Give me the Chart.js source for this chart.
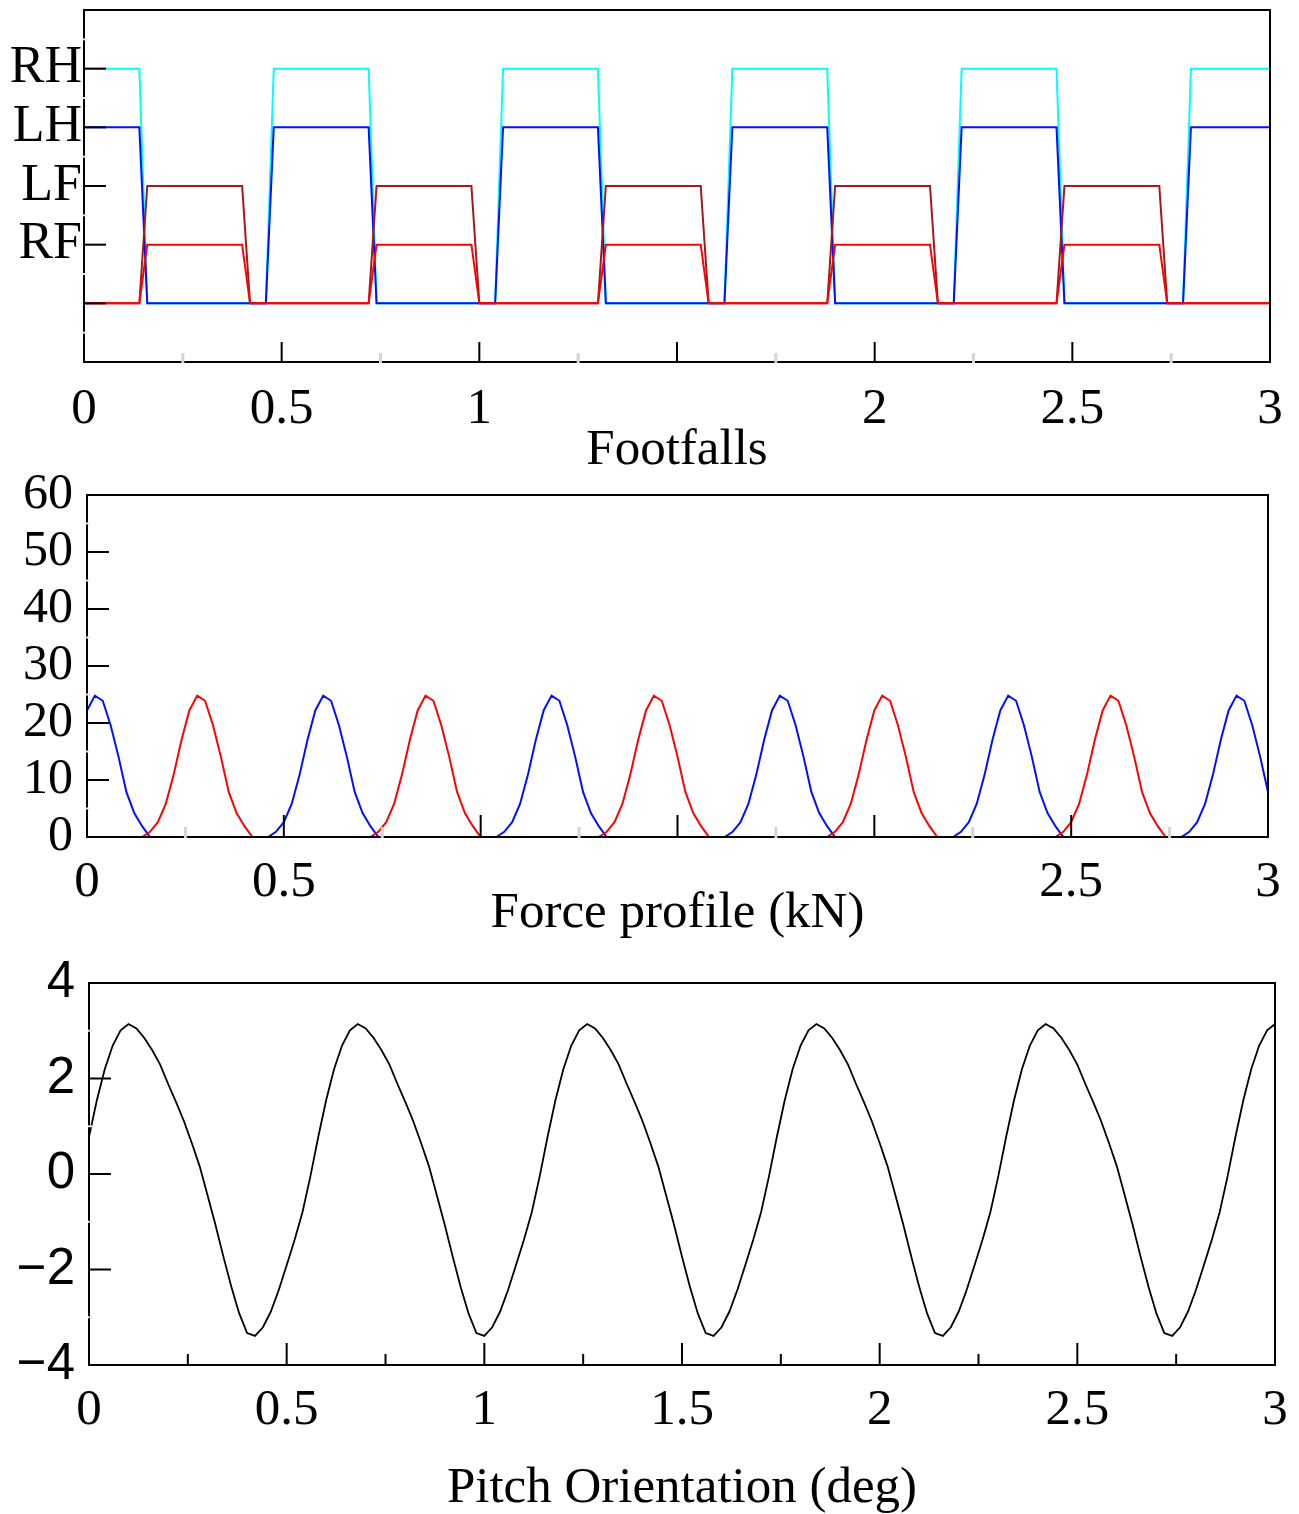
<!DOCTYPE html>
<html><head><meta charset="utf-8">
<script src="https://cdn.jsdelivr.net/npm/chart.js@4.4.0/dist/chart.umd.min.js"></script>
<style>
html,body{margin:0;padding:0;background:#fff;overflow:hidden;width:1299px;height:1514px;position:relative;}
canvas{position:absolute;left:0;}
</style></head><body>
<canvas id="c1" width="1299" height="485" style="top:0px;width:1299px;height:485px"></canvas>
<canvas id="c2" width="1299" height="490" style="top:460px;width:1299px;height:490px"></canvas>
<canvas id="c3" width="1299" height="580" style="top:940px;width:1299px;height:580px"></canvas>
<script>
// ---- sampling grid (s) ----
const time = [
0,0.02,0.04,0.06,0.08,0.10,0.12,0.14,0.16,0.18,
0.20,0.22,0.24,0.26,0.28,0.30,0.32,0.34,0.36,0.38,
0.40,0.42,0.44,0.46,0.48,0.50,0.52,0.54,0.56,0.58,
0.60,0.62,0.64,0.66,0.68,0.70,0.72,0.74,0.76,0.78,
0.80,0.82,0.84,0.86,0.88,0.90,0.92,0.94,0.96,0.98,
1.00,1.02,1.04,1.06,1.08,1.10,1.12,1.14,1.16,1.18,
1.20,1.22,1.24,1.26,1.28,1.30,1.32,1.34,1.36,1.38,
1.40,1.42,1.44,1.46,1.48,1.50,1.52,1.54,1.56,1.58,
1.60,1.62,1.64,1.66,1.68,1.70,1.72,1.74,1.76,1.78,
1.80,1.82,1.84,1.86,1.88,1.90,1.92,1.94,1.96,1.98,
2.00,2.02,2.04,2.06,2.08,2.10,2.12,2.14,2.16,2.18,
2.20,2.22,2.24,2.26,2.28,2.30,2.32,2.34,2.36,2.38,
2.40,2.42,2.44,2.46,2.48,2.50,2.52,2.54,2.56,2.58,
2.60,2.62,2.64,2.66,2.68,2.70,2.72,2.74,2.76,2.78,
2.80,2.82,2.84,2.86,2.88,2.90,2.92,2.94,2.96,2.98,
3.00];

// ---- Footfalls (transition points) ----
const hindT = [0,0.14,0.16,0.46,0.48,0.72,0.74,1.04,1.06,1.30,1.32,1.62,1.64,1.88,1.90,2.20,2.22,2.46,2.48,2.78,2.80,3.00];
const RH    = [4,4,0,0,4,4,0,0,4,4,0,0,4,4,0,0,4,4,0,0,4,4];
const LH    = [3,3,0,0,3,3,0,0,3,3,0,0,3,3,0,0,3,3,0,0,3,3];
const frontT = [0,0.14,0.16,0.40,0.42,0.72,0.74,0.98,1.00,1.30,1.32,1.56,1.58,1.88,1.90,2.14,2.16,2.46,2.48,2.72,2.74,3.00];
const LF    = [0,0,2,2,0,0,2,2,0,0,2,2,0,0,2,2,0,0,2,2,0,0];
const RF    = [0,0,1,1,0,0,1,1,0,0,1,1,0,0,1,1,0,0,1,1,0,0];
const footLevels = [1,2,3,4];
const footNames  = ['RF','LF','LH','RH'];

// ---- Force profile (kN) ----
const forceHind = [
22.2,24.8,23.9,19.6,14.1,7.9,4.2,1.9,0,0,
0,0,0,0,0,0,0,0,0,0,
0,0,0,0,0.9,2.6,5.8,10.9,17.0,22.2,
24.8,23.9,19.6,14.1,7.9,4.2,1.9,0,0,0,
0,0,0,0,0,0,0,0,0,0,
0,0,0,0.9,2.6,5.8,10.9,17.0,22.2,24.8,
23.9,19.6,14.1,7.9,4.2,1.9,0,0,0,0,
0,0,0,0,0,0,0,0,0,0,
0,0,0.9,2.6,5.8,10.9,17.0,22.2,24.8,23.9,
19.6,14.1,7.9,4.2,1.9,0,0,0,0,0,
0,0,0,0,0,0,0,0,0,0,
0,0.9,2.6,5.8,10.9,17.0,22.2,24.8,23.9,19.6,
14.1,7.9,4.2,1.9,0,0,0,0,0,0,
0,0,0,0,0,0,0,0,0,0,
0.9,2.6,5.8,10.9,17.0,22.2,24.8,23.9,19.6,14.1,
7.9];
const forceFront = [
0,0,0,0,0,0,0,0,0.9,2.6,
5.8,10.9,17.0,22.2,24.8,23.9,19.6,14.1,7.9,4.2,
1.9,0,0,0,0,0,0,0,0,0,
0,0,0,0,0,0,0,0.9,2.6,5.8,
10.9,17.0,22.2,24.8,23.9,19.6,14.1,7.9,4.2,1.9,
0,0,0,0,0,0,0,0,0,0,
0,0,0,0,0,0,0.9,2.6,5.8,10.9,
17.0,22.2,24.8,23.9,19.6,14.1,7.9,4.2,1.9,0,
0,0,0,0,0,0,0,0,0,0,
0,0,0,0,0,0.9,2.6,5.8,10.9,17.0,
22.2,24.8,23.9,19.6,14.1,7.9,4.2,1.9,0,0,
0,0,0,0,0,0,0,0,0,0,
0,0,0,0,0.9,2.6,5.8,10.9,17.0,22.2,
24.8,23.9,19.6,14.1,7.9,4.2,1.9,0,0,0,
0,0,0,0,0,0,0,0,0,0,
0];

// ---- Pitch orientation (deg) ----
const pitch = [
0.78,1.55,2.20,2.69,3.01,3.14,3.05,2.85,2.59,2.29,
1.89,1.51,1.11,0.65,0.16,-0.45,-1.07,-1.73,-2.36,-2.92,
-3.33,-3.39,-3.21,-2.88,-2.43,-1.91,-1.38,-0.80,-0.05,0.78,
1.55,2.20,2.69,3.01,3.14,3.05,2.85,2.59,2.29,1.89,
1.51,1.11,0.65,0.16,-0.45,-1.07,-1.73,-2.36,-2.92,-3.33,
-3.39,-3.21,-2.88,-2.43,-1.91,-1.38,-0.80,-0.05,0.78,1.55,
2.20,2.69,3.01,3.14,3.05,2.85,2.59,2.29,1.89,1.51,
1.11,0.65,0.16,-0.45,-1.07,-1.73,-2.36,-2.92,-3.33,-3.39,
-3.21,-2.88,-2.43,-1.91,-1.38,-0.80,-0.05,0.78,1.55,2.20,
2.69,3.01,3.14,3.05,2.85,2.59,2.29,1.89,1.51,1.11,
0.65,0.16,-0.45,-1.07,-1.73,-2.36,-2.92,-3.33,-3.39,-3.21,
-2.88,-2.43,-1.91,-1.38,-0.80,-0.05,0.78,1.55,2.20,2.69,
3.01,3.14,3.05,2.85,2.59,2.29,1.89,1.51,1.11,0.65,
0.16,-0.45,-1.07,-1.73,-2.36,-2.92,-3.33,-3.39,-3.21,-2.88,
-2.43,-1.91,-1.38,-0.80,-0.05,0.78,1.55,2.20,2.69,3.01,
3.14];

// ---- ticks ----
const xTickVals  = [0,0.5,1,1.5,2,2.5,3];
const xLabels1   = ['0','0.5','1','','2','2.5','3'];
const xLabels2   = ['0','0.5','','','','2.5','3'];
const xLabels3   = ['0','0.5','1','1.5','2','2.5','3'];
const xMajorVals = [0.5,1,1.5,2,2.5];
const xMinorVals = [0.25,0.75,1.25,1.75,2.25,2.75];
const y1Major = [0,1,2,3,4];
const y1Minor = [-0.5,0.5,1.5,2.5,3.5,4.5];
const y2TickVals = [0,10,20,30,40,50,60];
const y2Labels   = ['0','10','20','30','40','50','60'];
const y2Major = [10,20,30,40,50,60];
const y2Minor = [5,15,25,35,45,55];
const y3TickVals = [-4,-2,0,2,4];
const y3Labels   = ['\u22124','\u22122','0','2','4'];
const y3Major = [-2,0,2,4];
const y3Minor = [-3,-1,1,3];

const frame = {
  id: 'frame',
  afterDatasetsDraw(chart, args, o) {
    const {ctx, chartArea: a} = chart;
    const xs = chart.scales.x, ys = chart.scales.y;
    ctx.save();
    const line = (x1, y1, x2, y2, c, w) => {
      ctx.strokeStyle = c; ctx.lineWidth = w; ctx.beginPath();
      ctx.moveTo(x1, y1); ctx.lineTo(x2, y2); ctx.stroke();
    };
    ctx.strokeStyle = '#000'; ctx.lineWidth = 2;
    ctx.strokeRect(a.left, a.top, a.right - a.left, a.bottom - a.top);
    o.xMajor.forEach(v => { const p = xs.getPixelForValue(v); line(p, a.bottom, p, a.bottom - o.xMajorLen, '#000', 2); });
    o.yMajor.forEach(v => { const p = ys.getPixelForValue(v); line(a.left, p, a.left + o.yMajorLen, p, '#000', 2); });
    o.xMinor.forEach(v => { const p = xs.getPixelForValue(v); line(p, a.bottom + 1, p, a.bottom - o.xMinorLen, o.xMinorColor, o.xMinorWidth); });
    o.yMinor.forEach(v => { const p = ys.getPixelForValue(v); line(a.left - 1, p, a.left + o.yMinorLen, p, o.yMinorColor, o.yMinorWidth); });
    ctx.restore();
  }
};

function makeChart(id, datasets, c) {
  return new Chart(document.getElementById(id), {
    type: 'line',
    data: { datasets },
    options: {
      responsive: false, animation: false, events: [],
      layout: { padding: { top: c.padTop, right: c.padRight, left: 0, bottom: 0 } },
      plugins: { legend: { display: false }, tooltip: { enabled: false }, frame: c.frame },
      elements: { point: { radius: 0 }, line: { tension: 0, borderWidth: 2 } },
      scales: {
        x: {
          type: 'linear', min: 0, max: 3,
          grid: { display: false, drawTicks: false }, border: { display: false },
          afterBuildTicks: s => { s.ticks = xTickVals.map(v => ({ value: v })); },
          ticks: { autoSkip: false, maxRotation: 0, padding: c.xPad, color: '#000',
                   font: { family: 'Liberation Serif', size: 51 },
                   callback: v => { const i = xTickVals.indexOf(v); return i < 0 ? '' : c.xLabels[i]; } },
          title: { display: true, text: c.title, color: '#000',
                   font: { family: 'Liberation Serif', size: 51 }, padding: { top: 0, bottom: c.titlePad } },
          afterFit: s => { s.height = c.xHeight; s.paddingLeft = 0; s.paddingRight = 0; }
        },
        y: {
          type: 'linear', min: c.yMin, max: c.yMax,
          grid: { display: false, drawTicks: false }, border: { display: false },
          afterBuildTicks: s => { s.ticks = c.yTickVals.map(v => ({ value: v })); },
          ticks: { autoSkip: false, padding: c.yPad, color: '#000', font: c.yFont,
                   callback: v => { const i = c.yTickVals.indexOf(v); return i < 0 ? '' : c.yLabels[i]; } },
          afterFit: s => { s.width = c.yWidth; s.paddingTop = 0; s.paddingBottom = 0; }
        }
      }
    },
    plugins: [frame]
  });
}

const pts = (xs, ys) => xs.map((t, i) => ({ x: t, y: ys[i] }));

makeChart('c1', [
  { data: pts(frontT, RF), borderColor: '#ff0000' },
  { data: pts(frontT, LF), borderColor: '#a31a1a' },
  { data: pts(hindT, LH),  borderColor: '#0010ff' },
  { data: pts(hindT, RH),  borderColor: '#00ffff' }
], {
  padTop: 10, padRight: 29, xHeight: 123, xPad: 17, titlePad: 4, title: 'Footfalls',
  xLabels: xLabels1, yMin: -1, yMax: 5, yTickVals: footLevels, yLabels: footNames,
  yPad: 2, yWidth: 84, yFont: { family: 'Liberation Serif', size: 52 },
  frame: { xMajor: xMajorVals, xMajorLen: 20, xMinor: xMinorVals, xMinorLen: 9, xMinorColor: '#d4d4d4', xMinorWidth: 3,
           yMajor: y1Major, yMajorLen: 22, yMinor: y1Minor, yMinorLen: 3, yMinorColor: '#e6e6e6', yMinorWidth: 2 }
});

makeChart('c2', [
  { data: pts(time, forceFront), borderColor: '#ff0000' },
  { data: pts(time, forceHind),  borderColor: '#0010ff' }
], {
  padTop: 35, padRight: 31, xHeight: 113, xPad: 15, titlePad: 6, title: 'Force profile (kN)',
  xLabels: xLabels2, yMin: 0, yMax: 60, yTickVals: y2TickVals, yLabels: y2Labels,
  yPad: 14, yWidth: 87, yFont: { family: 'Liberation Serif', size: 50 },
  frame: { xMajor: xMajorVals, xMajorLen: 22, xMinor: xMinorVals, xMinorLen: 10, xMinorColor: '#d4d4d4', xMinorWidth: 3,
           yMajor: y2Major, yMajorLen: 22, yMinor: y2Minor, yMinorLen: 3, yMinorColor: '#e6e6e6', yMinorWidth: 2 }
});

makeChart('c3', [
  { data: pts(time, pitch), borderColor: '#000000', borderWidth: 1.8 }
], {
  padTop: 43, padRight: 24, xHeight: 155, xPad: 15, titlePad: 1, title: 'Pitch Orientation (deg)',
  xLabels: xLabels3, yMin: -4, yMax: 4, yTickVals: y3TickVals, yLabels: y3Labels,
  yPad: 14, yWidth: 89, yFont: { family: 'Liberation Sans', size: 51 },
  frame: { xMajor: xMajorVals, xMajorLen: 22, xMinor: xMinorVals, xMinorLen: 11, xMinorColor: '#000', xMinorWidth: 2,
           yMajor: y3Major, yMajorLen: 22, yMinor: y3Minor, yMinorLen: 3, yMinorColor: '#e6e6e6', yMinorWidth: 2 }
});
</script>
</body></html>
